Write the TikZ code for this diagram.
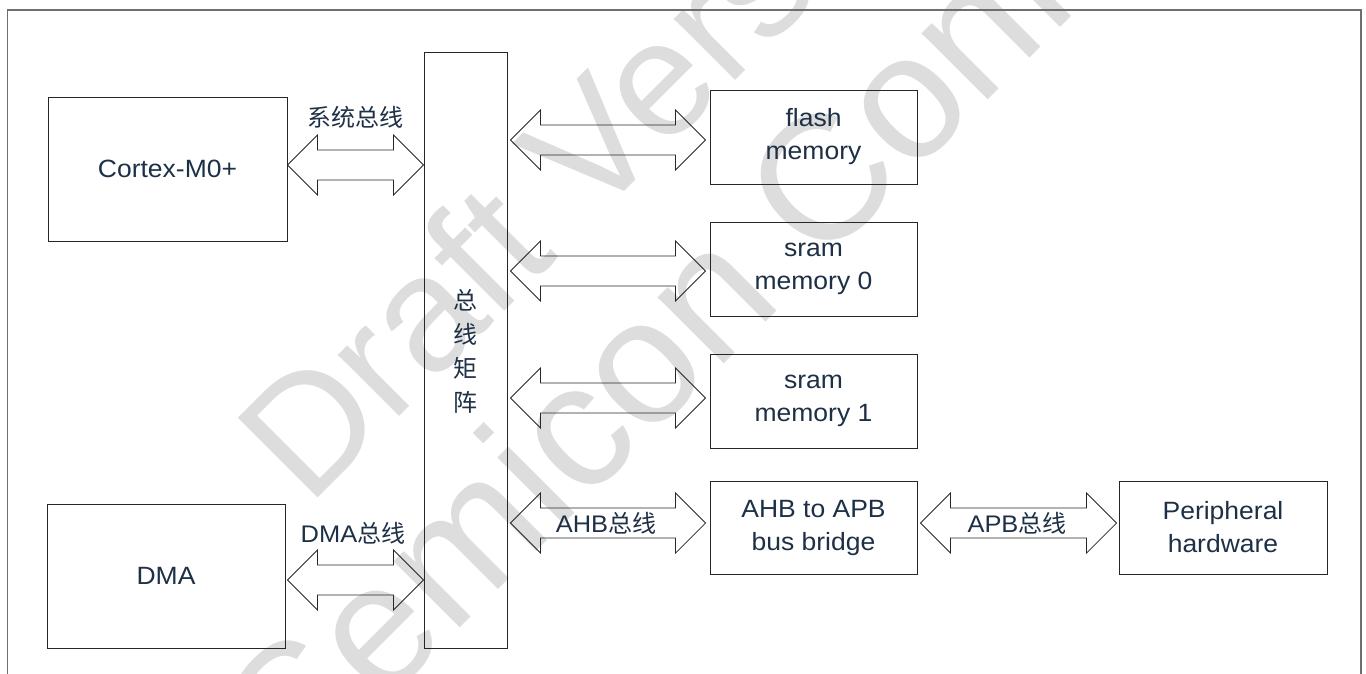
\documentclass[tikz,border=0pt]{standalone}
\usepackage{fontspec}
\setmainfont{Liberation Sans}[FakeStretch=1.06]
\newfontfamily\cjk{Noto Sans CJK SC}
\newfontfamily\wmfont{Liberation Sans}
\usetikzlibrary{calc}
\definecolor{txt}{RGB}{30,48,70}
\definecolor{wmgray}{RGB}{221,221,221}
\definecolor{frm}{RGB}{110,110,110}
\tikzset{
  box/.style={draw=black!85, line width=0.9pt, inner sep=0pt, text=txt, align=center,
              font=\fontsize{25}{33}\selectfont},
  busline/.style={draw=black!85, line width=0.8pt, line join=miter},
  lbl/.style={text=txt, inner sep=0pt, font=\fontsize{24}{28}\selectfont},
  wmtext/.style={text=wmgray, inner sep=0pt, rotate=45, anchor=base west},
  frameline/.style={draw=frm, line width=1.5pt}
}
\newcommand\busarr[5]{%
  \coordinate (bA) at ($(#1.east |- 0,#3)+(#4,0)$);
  \coordinate (bB) at ($(#2.west |- 0,#3)+(#5,0)$);
  \draw[busline] (bA) -- ++(30,-30) -- ++(0,15) -- ($(bB)+(-30,-15)$) -- ++(0,-15)
    -- (bB) -- ++(-30,30) -- ++(0,-15) -- ($(bA)+(30,15)$) -- ++(0,15) -- cycle;}
\begin{document}
\begin{tikzpicture}[x=1pt,y=-1pt]
\useasboundingbox (0,0) rectangle (1366,673);
\begin{scope}
  \clip (0,0) rectangle (1366,673);
  \node[wmtext, font=\wmfont\fontsize{164}{164}\selectfont] (wm1) at (308,508) {Draft Version};
  \node[wmtext, font=\wmfont\fontsize{177}{177}\selectfont] (wm2) at (298,790) {Semicon Confidential};
\end{scope}
\coordinate (f1) at (7.5,690);
\coordinate (f2) at (7.5,10);
\coordinate (f3) at (1361,10);
\coordinate (f4) at (1361,690);
\draw[frameline] (f1) -- (f2) -- (f3) -- (f4);

\node[box, minimum width=239pt, minimum height=144pt] (cortex) at (167.5,169) {Cortex-M0+};
\node[box, minimum width=238pt, minimum height=144pt] (dma) at (166,576) {DMA};
\node[box, minimum width=83pt, minimum height=596pt] (bus) at (465.5,350) {};
\node[lbl, align=center, font=\cjk\fontsize{24}{34}\selectfont] (bustext) at (465,351) {总\\线\\矩\\阵};
\node[box, minimum width=207pt, minimum height=94pt] (flash) at (813.5,137) {flash\\memory};
\node[box, minimum width=207pt, minimum height=94pt] (sram0) at (813.5,269) {sram\\memory 0};
\node[box, minimum width=207pt, minimum height=94pt] (sram1) at (813.5,401) {sram\\memory 1};
\node[box, minimum width=207pt, minimum height=93pt] (bridge) at (813.5,527.5) {AHB to APB\\bus bridge};
\node[box, minimum width=208pt, minimum height=93pt] (periph) at (1223,527.5) {Peripheral\\hardware};

\busarr{cortex}{bus}{165}{0}{0}
\busarr{dma}{bus}{580}{2}{0}
\busarr{bus}{flash}{140}{3}{-4}
\busarr{bus}{sram0}{271}{3}{-4}
\busarr{bus}{sram1}{398}{3}{-4}
\busarr{bus}{bridge}{523}{3}{-4}
\busarr{bridge}{periph}{523}{3}{-2}

\node[lbl] (l1) at (355,117) {\cjk 系统总线};
\node[lbl] (l2) at (353,533) {DMA\cjk 总线};
\node[lbl] (l3) at (606,523) {AHB\cjk 总线};
\node[lbl] (l4) at (1017,523) {APB\cjk 总线};
\end{tikzpicture}
\end{document}
